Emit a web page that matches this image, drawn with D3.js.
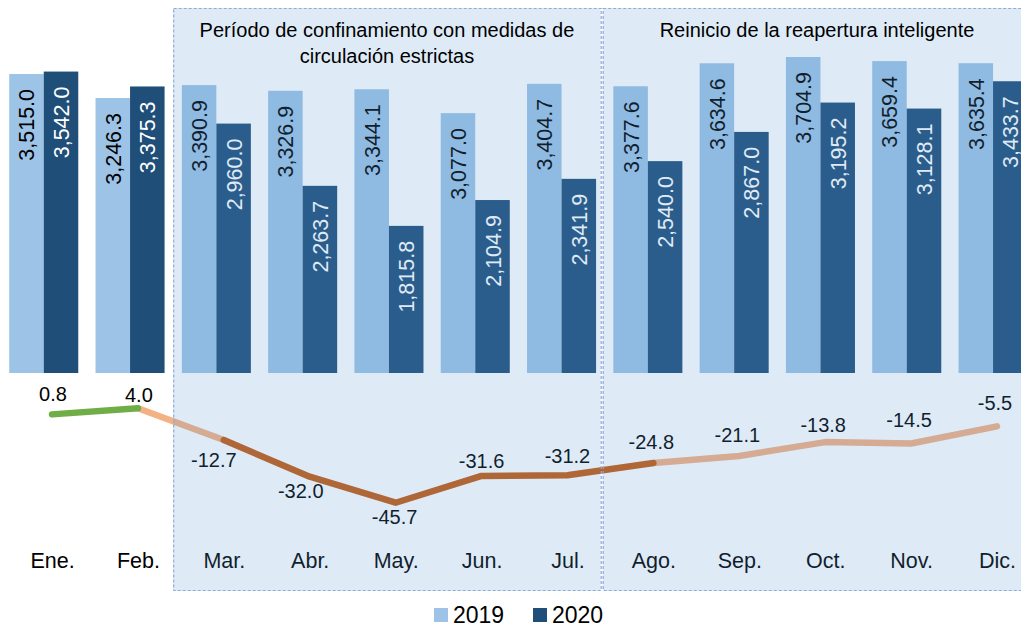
<!DOCTYPE html>
<html lang="es">
<head>
<meta charset="utf-8">
<script src="https://cdn.jsdelivr.net/npm/d3@7"></script>
<style>
  html, body { margin: 0; padding: 0; background: #fff; }
  svg { display: block; font-family: "Liberation Sans", Arial, sans-serif; }
</style>
</head>
<body>
<svg id="grafico"></svg>
<script>
// Datos
const meses = ["Ene.", "Feb.", "Mar.", "Abr.", "May.", "Jun.", "Jul.", "Ago.", "Sep.", "Oct.", "Nov.", "Dic."];
const series = ["2019", "2020"];
const valores2019 = [3515.0, 3246.3, 3390.9, 3326.9, 3344.1, 3077.0, 3404.7, 3377.6, 3634.6, 3704.9, 3659.4, 3635.4];
const valores2020 = [3542.0, 3375.3, 2960.0, 2263.7, 1815.8, 2104.9, 2341.9, 2540.0, 2867.0, 3195.2, 3128.1, 3433.7];
const variacion = [0.8, 4.0, -12.7, -32.0, -45.7, -31.6, -31.2, -24.8, -21.1, -13.8, -14.5, -5.5];

// periodos sombreados (mes inicial y final) con su titulo
const periodos = [
  { desde: "Mar.", hasta: "Jul.", titulo: ["Período de confinamiento con medidas de", "circulación estrictas"] },
  { desde: "Ago.", hasta: "Dic.", titulo: ["Reinicio de la reapertura inteligente"] }
];
// tramos de la linea de variacion (indices de meses)
const tramos = [
  { desde: 1, hasta: 2, tipo: "claro" },
  { desde: 7, hasta: 11, tipo: "claro" },
  { desde: 2, hasta: 7, tipo: "oscuro" },
  { desde: 0, hasta: 1, tipo: "verde" }
];

// 0) constantes de dibujo
const WIDTH = 1021;
const HEIGHT = 627;
const baseBarras = 373;
const colores = { "2019": "#9DC3E6", "2020": "#1F4E79" };
const coloresTexto = { "2019": "#000000", "2020": "#ffffff" };
const coloresLinea = { verde: "#70AD47", claro: "#F4B183", oscuro: "#C55A11" };
// posicion de cada etiqueta de la linea respecto a su punto [dx, dy]
const desplazEtiquetas = [[1, -20], [1, -13], [-10, 20], [-9, 14], [-1, 14], [0, -15],
  [0, -19], [-2, -21], [-2, -21], [-2, -17], [-2, -23], [-2, -23]];

const svg = d3.select("#grafico")
  .attr("width", WIDTH)
  .attr("height", HEIGHT);

// 1) escalas
const escalaX = d3.scaleBand()
  .domain(meses)
  .range([0.6, 1036.2])
  .paddingInner(0.2)
  .paddingOuter(0.1);

const escalaSerie = d3.scaleBand()
  .domain(series)
  .range([0, escalaX.bandwidth()]);

const escalaPunto = d3.scalePoint()
  .domain(meses)
  .range([52, 997]);

const escalaY = d3.scaleLinear()
  .domain([170, 3800])
  .range([baseBarras, 48.5]);

const escalaVar = d3.scaleLinear()
  .domain([-50, 10])
  .range([510.9, 396.9]);

const datos = meses.map((m, i) => ({
  mes: m,
  valores: [
    { serie: "2019", valor: valores2019[i] },
    { serie: "2020", valor: valores2020[i] }
  ]
}));

const formato = d3.format(",.1f");

// 2) barras agrupadas
const grupos = svg.append("g").attr("class", "barras")
  .selectAll("g")
  .data(datos)
  .join("g")
  .attr("transform", d => `translate(${escalaX(d.mes)},0)`);

grupos.selectAll("rect")
  .data(d => d.valores)
  .join("rect")
  .attr("x", d => escalaSerie(d.serie))
  .attr("y", d => escalaY(d.valor))
  .attr("width", escalaSerie.bandwidth())
  .attr("height", d => baseBarras - escalaY(d.valor))
  .attr("fill", d => colores[d.serie]);

grupos.selectAll("text")
  .data(d => d.valores)
  .join("text")
  .attr("transform", d => `translate(${escalaSerie(d.serie) + escalaSerie.bandwidth() / 2 + 1},${escalaY(d.valor) + 15}) rotate(-90)`)
  .attr("text-anchor", "end")
  .attr("dominant-baseline", "central")
  .attr("font-size", 21.5)
  .attr("fill", d => coloresTexto[d.serie])
  .text(d => formato(d.valor));

// 3) linea de variacion
const linea = d3.line()
  .x(d => escalaPunto(d.mes))
  .y(d => escalaVar(d.v));

const puntos = meses.map((m, i) => ({ mes: m, v: variacion[i] }));

svg.append("g").attr("class", "linea")
  .selectAll("path")
  .data(tramos)
  .join("path")
  .attr("d", t => linea(puntos.slice(t.desde, t.hasta + 1)))
  .attr("fill", "none")
  .attr("stroke", t => coloresLinea[t.tipo])
  .attr("stroke-width", 6.5)
  .attr("stroke-linecap", "round")
  .attr("stroke-linejoin", "round");

// el grafico original usa guion normal para los negativos
svg.append("g").attr("class", "etiquetas-linea")
  .selectAll("text")
  .data(puntos)
  .join("text")
  .attr("x", (d, i) => escalaPunto(d.mes) + desplazEtiquetas[i][0])
  .attr("y", (d, i) => escalaVar(d.v) + desplazEtiquetas[i][1])
  .attr("text-anchor", "middle")
  .attr("dominant-baseline", "central")
  .attr("font-size", 20)
  .attr("fill", "#000")
  .text(d => d.v.toFixed(1));

// 4) eje de meses (solo etiquetas)
const ejeX = d3.axisBottom(escalaPunto).tickSize(0).tickPadding(0);
svg.append("g")
  .attr("transform", "translate(0,553)")
  .call(ejeX)
  .call(g => g.select(".domain").remove())
  .selectAll("text")
  .attr("font-size", 21.5)
  .attr("font-family", "Liberation Sans, Arial, sans-serif")
  .attr("fill", "#000");

// 5) cajas de los periodos
const paso = escalaX.step();
const hueco = paso - escalaX.bandwidth();
const cajas = periodos.map((p, i) => {
  const x0 = escalaX(p.desde) - hueco / 2 - (i === 0 ? 0 : 2);
  const x1 = i === 0 ? escalaX(p.hasta) + escalaX.bandwidth() + hueco / 2 - 4 : WIDTH + 20;
  return { ...p, x0, x1 };
});

const capaCajas = svg.append("g").attr("class", "cajas");
capaCajas.selectAll("rect.sombra")
  .data(cajas)
  .join("rect")
  .attr("class", "sombra")
  .attr("x", d => d.x0)
  .attr("y", 8)
  .attr("width", d => d.x1 - d.x0)
  .attr("height", 583)
  .attr("fill", "rgb(91,155,213)")
  .attr("fill-opacity", 0.2);

capaCajas.selectAll("rect.borde")
  .data(cajas)
  .join("rect")
  .attr("class", "borde")
  .attr("x", d => d.x0 + 0.5)
  .attr("y", 8.5)
  .attr("width", d => d.x1 - d.x0)
  .attr("height", 582)
  .attr("fill", "none")
  .attr("stroke", "#8FAADC")
  .attr("stroke-width", 1.2)
  .attr("stroke-dasharray", "3,2");

capaCajas.selectAll("text")
  .data(cajas)
  .join("text")
  .attr("x", (d, i) => i === 0 ? (d.x0 + d.x1) / 2 : 817)
  .attr("y", 37)
  .attr("text-anchor", "middle")
  .attr("font-size", 20)
  .attr("fill", "#000")
  .selectAll("tspan")
  .data(d => d.titulo)
  .join("tspan")
  .attr("x", function () { return d3.select(this.parentNode).attr("x"); })
  .attr("dy", (d, i) => i === 0 ? 0 : 25.5)
  .text(d => d);

// 6) leyenda
const leyenda = svg.append("g").attr("class", "leyenda")
  .selectAll("g")
  .data(series)
  .join("g")
  .attr("transform", (d, i) => `translate(${434 + i * 99},608)`);

leyenda.append("rect")
  .attr("width", 14)
  .attr("height", 14)
  .attr("fill", d => colores[d]);

leyenda.append("text")
  .attr("x", 19)
  .attr("y", 15)
  .attr("font-size", 23)
  .attr("fill", "#000")
  .text(d => d);
</script>
</body>
</html>
